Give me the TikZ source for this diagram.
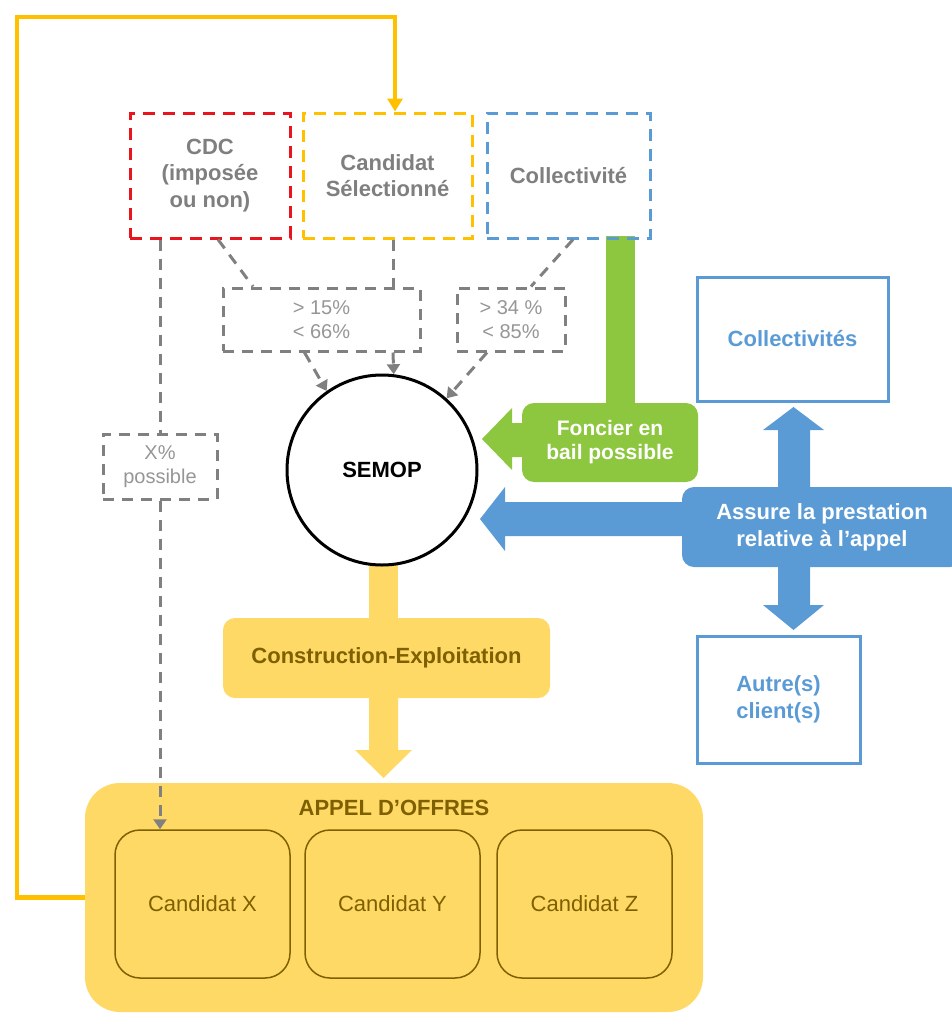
\documentclass[tikz,border=0pt]{standalone}
\usepackage{fontspec}
\setmainfont{Liberation Sans}
\usetikzlibrary{arrows.meta}
\pgfdeclarelayer{bg}
\pgfsetlayers{bg,main}
\definecolor{gline}{RGB}{128,128,128}
\definecolor{gtext}{RGB}{127,127,127}
\definecolor{ptext}{RGB}{150,150,150}
\definecolor{redd}{RGB}{232,20,30}
\definecolor{orangey}{RGB}{255,192,0}
\definecolor{blueo}{RGB}{91,155,213}
\definecolor{greeno}{RGB}{141,198,63}
\definecolor{yellowf}{RGB}{255,217,102}
\definecolor{olive}{RGB}{127,96,0}
\begin{document}
\begin{tikzpicture}[x=1pt,y=-1pt,
  big/.style={font=\fontsize{22}{26.5}\selectfont\bfseries},
  dbox/.style={draw, line width=3pt, dash pattern=on 12pt off 8pt, inner sep=0pt, align=center, big, text=gtext},
  pbox/.style={draw=gline, line width=3pt, dash pattern=on 11pt off 8pt, inner sep=0pt, align=center, text=ptext, font=\fontsize{20}{23.5}\selectfont},
  gconn/.style={draw=gline, line width=3pt, dash pattern=on 11pt off 8pt},
  garrow/.style={gconn, -{Triangle[width=13pt,length=10pt]}},
  bluebox/.style={draw=blueo, line width=3pt, inner sep=0pt, align=center, big, text=blueo},
  cbox/.style={draw=olive, line width=1.5pt, fill=yellowf, rounded corners=25pt, minimum width=175pt, minimum height=148pt, text=olive, font=\fontsize{22}{26}\selectfont}
]
\useasboundingbox (0,0) rectangle (951,1015);

% top dashed boxes
\node[dbox, draw=redd, minimum width=160pt, minimum height=125pt] (cdc) at (210,175.5) {CDC\\(imposée\\ou non)};
\node[dbox, draw=orangey, minimum width=169pt, minimum height=125pt] (cand) at (387.5,175.5) {Candidat\\Sélectionné};
\node[dbox, draw=blueo, minimum width=163pt, minimum height=125pt] (coll) at (568.5,175.5) {Collectivité};

% percentage boxes
\node[pbox, minimum width=197pt, minimum height=63pt] (p1) at (321.5,319.5) {> 15\%\\< 66\%};
\node[pbox, minimum width=108pt, minimum height=63pt] (p2) at (511,319.5) {> 34 \%\\< 85\%};
\node[pbox, minimum width=114pt, minimum height=65pt] (xp) at (160,466.5) {X\%\\possible};

% SEMOP
\node[circle, draw, line width=3pt, fill=white, minimum size=190pt, inner sep=0pt, big] (semop) at (382,470) {SEMOP};

% Construction-Exploitation
\node[fill=yellowf, rounded corners=12pt, minimum width=327pt, minimum height=80pt, inner sep=0pt, big, text=olive] (ce) at (386.5,658) {Construction-Exploitation};

% Appel d'offres
\node[fill=yellowf, rounded corners=35pt, minimum width=618pt, minimum height=229pt, inner sep=0pt] (ao) at (394,897.5) {};
\node[big, text=olive, inner sep=0pt] (aot) at (394,808) {APPEL D’OFFRES};
\node[cbox] (cx) at (202.5,904) {Candidat X};
\node[cbox] (cy) at (392.5,904) {Candidat Y};
\node[cbox] (cz) at (584.5,904) {Candidat Z};

% green box
\node[fill=greeno, rounded corners=12pt, minimum width=176pt, minimum height=79pt, inner sep=0pt, align=center, text=white, font=\fontsize{21}{24}\selectfont\bfseries] (fonc) at (610,442.5) {Foncier en\\bail possible};

% blue boxes
\node[bluebox, minimum width=191pt, minimum height=124pt] (colls) at (792.5,339) {Collectivités};
\node[bluebox, minimum width=163pt, minimum height=127pt] (autres) at (778.5,699.5) {Autre(s)\\client(s)};
\node[fill=blueo, rounded corners=12pt, minimum width=280pt, minimum height=80pt, inner sep=0pt, align=center, text=white, font=\fontsize{22}{27}\selectfont\bfseries] (assure) at (822,527) {Assure la prestation\\relative à l’appel};

\begin{pgfonlayer}{bg}
  % green stem and arrow
  \fill[greeno] (606,236) rectangle (635,410);
  \fill[greeno] (530,423) -- (512,423) -- (512,408) -- (482,439) -- (512,470) -- (512,457) -- (530,457) -- cycle;
  % blue arrows
  \fill[blueo] (690,502) -- (505,502) -- (505,487) -- (480,519) -- (505,551) -- (505,536) -- (690,536) -- cycle;
  \fill[blueo] (778,495) -- (778,430) -- (763,430) -- (793.5,407) -- (824,430) -- (810,430) -- (810,495) -- cycle;
  \fill[blueo] (778,560) -- (778,605) -- (763,605) -- (793.5,630) -- (824,605) -- (810,605) -- (810,560) -- cycle;
  % yellow arrows
  \fill[yellowf] (369,540) rectangle (398,625);
  \fill[yellowf] (369,690) -- (369,750) -- (355,750) -- (383.5,778) -- (412,750) -- (398,750) -- (398,690) -- cycle;
\end{pgfonlayer}

% gray dashed connectors
\draw[gconn] (cdc.south -| xp.north) -- (xp.north);
\draw[garrow] (xp.south) -- (xp.south |- cx.north);
\draw[gconn] ([xshift=8pt]cdc.south) -- ([xshift=-68.5pt]p1.north);
\draw[gconn] ([xshift=5.5pt]cand.south) -- ([xshift=71.5pt]p1.north);
\draw[garrow] ([xshift=71.5pt]p1.south) -- (semop.83);
\draw[garrow] ([xshift=-17pt]p1.south) -- (semop.125);
\draw[gconn] ([xshift=4.5pt]coll.south) -- ([xshift=20pt]p2.north);
\draw[garrow] ([xshift=-24pt]p2.south) -- (semop.48);

% orange feedback line
\draw[orangey, line width=4.5pt, -{Triangle[width=15pt,length=13pt]}] (ao.west) -| (17,17) -| ([xshift=7.5pt]cand.north);
\end{tikzpicture}
\end{document}
